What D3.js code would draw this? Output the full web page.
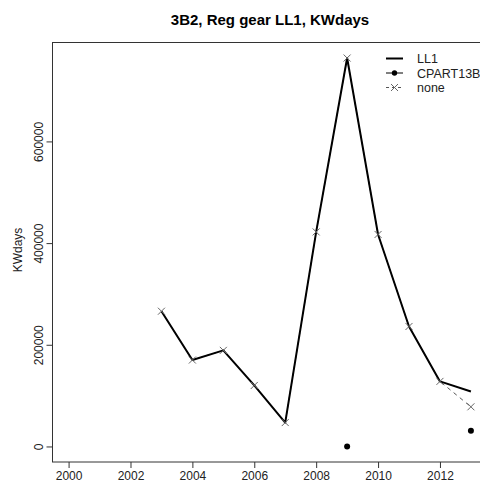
<!DOCTYPE html>
<html><head><meta charset="utf-8">
<script src="https://cdn.jsdelivr.net/npm/d3@7"></script>
<style>body{margin:0;background:#fff}svg{display:block}text{font-family:"Liberation Sans",Arial,sans-serif}</style>
</head><body><div id="c"></div>
<script>
const years = [2003,2004,2005,2006,2007,2008,2009,2010,2011,2012,2013];
const ll1 = [266000,170000,189000,120000,47000,422000,764000,417000,236000,128000,108000];
const noneVals = [266000,170000,189000,120000,47000,422000,764000,417000,236000,128000,78000];
const cpartYears = [2009,2013];
const cpartVals = [0,31000];
const xTicks = [2000,2002,2004,2006,2008,2010,2012];
const yTicks = [0,200000,400000,600000];
const legendLabels = ["LL1","CPART13B","none"];

const W=480,H=483;
const svg=d3.select("#c").append("svg").attr("width",W).attr("height",H);
const x=d3.scaleLinear().domain([1999.48,2013.52]).range([52.5,487]);
const y=d3.scaleLinear().domain([-30560,794560]).range([462,42.5]);
const ax="#333";

svg.append("text").attr("x",270).attr("y",25).attr("text-anchor","middle")
  .attr("font-weight","bold").attr("font-size",15).text("3B2, Reg gear LL1, KWdays");

svg.append("rect").attr("x",52.5).attr("y",42.5).attr("width",434.5).attr("height",419.5)
  .attr("fill","none").attr("stroke",ax).attr("stroke-width",1);

const gx=svg.append("g").attr("transform","translate(0,462)")
  .call(d3.axisBottom(x).tickValues(xTicks).tickFormat(d3.format("d")).tickSize(6).tickPadding(3));
gx.select(".domain").remove();
gx.selectAll("line").attr("stroke",ax);
gx.selectAll("text").attr("font-size",12).attr("fill","#222").attr("font-family","Liberation Sans, Arial, sans-serif");

const gy=svg.append("g").attr("transform","translate(52.5,0)")
  .call(d3.axisLeft(y).tickValues(yTicks).tickFormat(d3.format("d")).tickSize(6));
gy.select(".domain").remove();
gy.selectAll("line").attr("stroke",ax);
gy.selectAll("text").attr("font-size",12).attr("fill","#222").attr("font-family","Liberation Sans, Arial, sans-serif")
  .attr("text-anchor","middle").attr("dy",0).attr("x",0)
  .attr("transform",function(){return "translate(-10,0) rotate(-90)";});
gy.selectAll(".tick text").attr("y",0);

svg.append("text").attr("transform","translate(22,250) rotate(-90)").attr("text-anchor","middle")
  .attr("font-size",12).attr("fill","#222").text("KWdays");

const line=d3.line().x(d=>x(d[0])).y(d=>y(d[1]));
const nonePts=years.map((yr,i)=>[yr,noneVals[i]]);
const llPts=years.map((yr,i)=>[yr,ll1[i]]);

svg.append("path").attr("d",line(nonePts)).attr("fill","none").attr("stroke","#555")
  .attr("stroke-width",1).attr("stroke-dasharray","4,4");
svg.append("path").attr("d",line(llPts)).attr("fill","none").attr("stroke","#000")
  .attr("stroke-width",2).attr("stroke-linejoin","round");
const cross=(g,cx,cy,s)=>{g.append("path").attr("d",`M${cx-s},${cy-s}L${cx+s},${cy+s}M${cx-s},${cy+s}L${cx+s},${cy-s}`)
  .attr("stroke","#666").attr("stroke-width",1).attr("fill","none");};
nonePts.forEach(p=>cross(svg,x(p[0]),y(p[1]),3.5));
svg.selectAll(".cp").data(cpartYears.map((yr,i)=>[yr,cpartVals[i]])).enter().append("circle")
  .attr("cx",d=>x(d[0])).attr("cy",d=>y(d[1])).attr("r",3).attr("fill","#000");

const lg=svg.append("g");
const ly=[58.5,73,87.5];
const lx1=386,lx2=403,lxc=394.5;
lg.append("line").attr("x1",lx1).attr("x2",lx2).attr("y1",ly[0]).attr("y2",ly[0]).attr("stroke","#000").attr("stroke-width",2);
lg.append("line").attr("x1",lx1).attr("x2",lx2).attr("y1",ly[1]).attr("y2",ly[1]).attr("stroke","#000").attr("stroke-width",1);
lg.append("circle").attr("cx",lxc).attr("cy",ly[1]).attr("r",2.7).attr("fill","#000");
lg.append("line").attr("x1",lx1).attr("x2",lx2).attr("y1",ly[2]).attr("y2",ly[2]).attr("stroke","#555").attr("stroke-width",1).attr("stroke-dasharray","3,3");
cross(lg,lxc,ly[2],3.5);
legendLabels.forEach((t,i)=>lg.append("text").attr("x",417).attr("y",ly[i]+4.5).attr("font-size",12.5).attr("fill","#222").text(t));
</script></body></html>
